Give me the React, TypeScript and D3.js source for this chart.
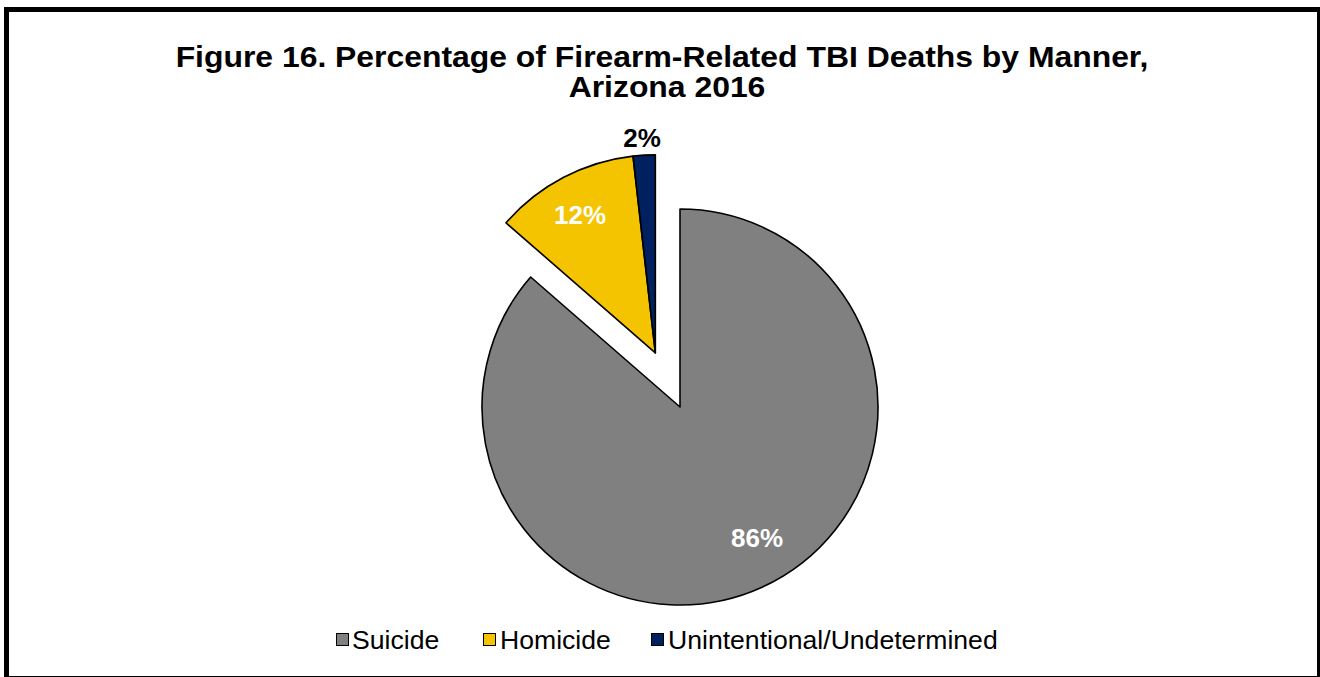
import React from "react";
import * as d3 from "d3";

const categories = ["Suicide", "Homicide", "Unintentional/Undetermined"];
const values = [86.4, 11.8, 1.8];
const labels = ["86%", "12%", "2%"];
const colors = ["#808080", "#F5C400", "#002060"];
const exploded = [false, true, true];
const titleLines = ["Figure 16. Percentage of Firearm-Related TBI Deaths by Manner,", "Arizona 2016"];

const W = 1320, H = 677;
const cx = 680, cy = 407, R = 198;

export default function App() {
  const pie = d3.pie<number>().sort(null).value((d) => d);
  const arcs = pie(values);
  const arc = d3.arc<d3.PieArcDatum<number>>().innerRadius(0).outerRadius(R);
  const exp = arcs.filter((_, i) => exploded[i]);
  const mid = (exp[0].startAngle + exp[exp.length - 1].endAngle) / 2;
  const off = 59.5;
  const ex = Math.sin(mid) * off, ey = -Math.cos(mid) * off;

  const titleLayout = [
    { x: 662, y: 67 },
    { x: 667, y: 97 },
  ];
  const labelLayout = [
    { x: 757, y: 547, fill: "#fff" },
    { x: 580, y: 224, fill: "#fff" },
    { x: 642, y: 147, fill: "#000" },
  ];
  const legendLayout = [
    { sx: 336, tx: 352 },
    { sx: 483, tx: 500 },
    { sx: 651, tx: 668 },
  ];

  return (
    <svg width={W} height={H} style={{ position: "absolute", left: 0, top: 0 }}
      fontFamily="'Liberation Sans', Arial, sans-serif">
      <rect x={0} y={0} width={W} height={H} fill="#fff" />
      <rect x={6.5} y={9.5} width={1313} height={669} fill="none" stroke="#000" strokeWidth={5} />
      {titleLines.map((t, i) => (
        <text key={i} transform={`translate(${titleLayout[i].x},${titleLayout[i].y}) scale(1.1,1)`}
          fontWeight="bold" fontSize={29} textAnchor="middle">
          {t}
        </text>
      ))}
      {arcs.map((a, i) => (
        <path key={i} d={arc(a) || ""}
          transform={`translate(${cx + (exploded[i] ? ex : 0)},${cy + (exploded[i] ? ey : 0)})`}
          fill={colors[i]} stroke="#000" strokeWidth={1.6} strokeLinejoin="round" />
      ))}
      {labels.map((l, i) => (
        <text key={i} x={labelLayout[i].x} y={labelLayout[i].y} fontWeight="bold" fontSize={26}
          fill={labelLayout[i].fill} textAnchor="middle">
          {l}
        </text>
      ))}
      {categories.map((c, i) => (
        <g key={i}>
          <rect x={legendLayout[i].sx + 0.5} y={633.5} width={12} height={12} fill={colors[i]} stroke="#000" strokeWidth={1} />
          <text x={legendLayout[i].tx} y={649} fontSize={26.6}>{c}</text>
        </g>
      ))}
    </svg>
  );
}
